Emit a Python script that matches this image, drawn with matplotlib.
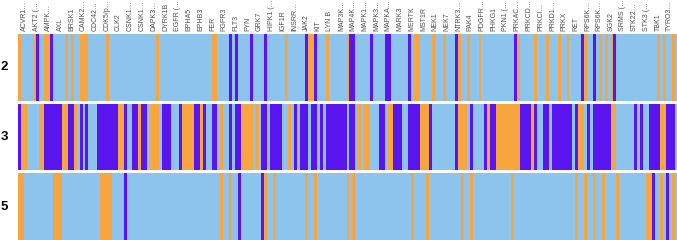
import numpy as np
import matplotlib.pyplot as plt
from matplotlib.colors import ListedColormap

# one letter per kinase column: L = light blue, O = orange, P = purple
row_2 = ("OLLLLOPLLO" "OPLLLLOLOL" "LOOOLLLLLL" "OLLLLLLLLL" "LLLLLLLOLL"
         "LLLLLLLLLL" "LLLLLLOOLL" "LLPLPLLLLP" "LLLLPLLLLL" "LOLLLLLLPO"
         "OPLLLOLLLL" "LLOPPLLLLL" "PLLLLPPLLL" "LLLPLOOLLL" "LOLLLOLLLP"
         "OLLOLLLOLL" "LLLLLLLLLP" "OLLLLLOLLL" "OLLLOLLOLL" "LLPOLLPLOL"
         "OLOPLLLLLL" "LLLLLLLLOL" "OLLOL")
row_3 = ("POOLLLLOOP" "PPPPPOOPPO" "LPLPLLLPPP" "PPPPOOPLLP" "POPPLOOOLP"
         "PPLLLPOOOO" "PPOPLLPPLO" "LLPLPPOOOO" "LOLPPLPPPP" "LLOLPLPPPL"
         "PPLPLPPPPP" "PPLPPLOLOO" "LLLPPLOOPP" "PLLPPPPOOO" "PLLLLLLLLP"
         "OOOLPLLLLP" "OPPOOOOOOO" "OPPPPOPLLP" "PLPPPPPPPL" "POOLPLPPPP"
         "PPOOLLLLLL" "PLPLLPPPPO" "OPPPL")
row_5 = ("OOLLLLLLLL" "LLOOOLLLLL" "LLLLLLLLOO" "OOLLLLPLLL" "LLLLLLLLLL"
         "LLLLLLLLLL" "LLLLLLLLLO" "LLOLLPLLLL" "LLLPOLLOLL" "LLLLLLLLOL"
         "LOLLLLLLLL" "LLOLOLLLLL" "LLLLLLLLLL" "LLLLOLLLLO" "LLLLLLLLLL"
         "LOLLOLLLLL" "LLLLLLLLOL" "LLLLLLLLLL" "LLLLLLLLLL" "OLLOLLOLLO"
         "LLLLOLLLLL" "LLLLOOPLLO" "LPLOL")
row_names = ['2', '3', '5']

kinase_labels = ['ACVR1…', 'AKT2 (…', 'AMPK…', 'AXL', 'BRSK1', 'CAMK2…',
                 'CDC42…', 'CDK5/p…', 'CLK2', 'CSNK1…', 'CSNK1…', 'DAPK3…',
                 'DYRK1B', 'EGFR (…', 'EPHA5', 'EPHB3', 'FER', 'FGFR3', 'FLT3',
                 'FYN', 'GRK7', 'HIPK1 (…', 'IGF1R', 'INSRR…', 'JAK2', 'KIT',
                 'LYN B', 'MAP3K…', 'MAP4K…', 'MAPK1…', 'MAPK3…', 'MAPKA…',
                 'MARK3', 'MERTK', 'MST1R', 'NEK1', 'NEK7', 'NTRK3…', 'PAK4',
                 'PDGFR…', 'PHKG1', 'PKN1 (…', 'PRKAC…', 'PRKCD…', 'PRKCI…',
                 'PRKD1…', 'PRKX', 'RET', 'RPS6K…', 'RPS6K…', 'SGK2', 'SRMS (…',
                 'STK22…', 'STK3 (…', 'TBK1', 'TYRO3…']

codes = {'L': 0, 'O': 1, 'P': 2}
cmap = ListedColormap(['#8CC4EE', '#F8A540', '#5A14F0'])

W, H = 677, 240
fig = plt.figure(figsize=(W / 100, H / 100), dpi=100)

# pixel rows (top, bottom) of each band
bands = [(34, 101), (104, 170), (173, 240)]
x0, x1 = 17.5, 677

for k, (row, name) in enumerate(zip([row_2, row_3, row_5], row_names)):
    top, bot = bands[k]
    ax = fig.add_axes([x0 / W, 1 - bot / H, (x1 - x0) / W, (bot - top) / H])
    vals = np.array([codes[c] for c in row])[np.newaxis, :]
    ax.imshow(vals, aspect='auto', cmap=cmap, vmin=0, vmax=2,
              interpolation='nearest')
    for s in ax.spines.values():
        s.set_visible(False)
    ax.set_yticks([])
    if k == 0:
        ax.xaxis.tick_top()
        ax.set_xticks(range(2, 2 + 4 * len(kinase_labels), 4))
        ax.set_xticklabels(kinase_labels, rotation=90, fontsize=5,
                           color='#505050', family='Liberation Sans')
        ax.tick_params(axis='x', length=0, pad=2)
    else:
        ax.set_xticks([])
    fig.text(4.5 / W, 1 - (top + bot) / 2 / H, name, ha='center',
             va='center', fontsize=9.5, fontweight='bold',
             family='Liberation Sans')

fig.savefig('out.png', dpi=100)
